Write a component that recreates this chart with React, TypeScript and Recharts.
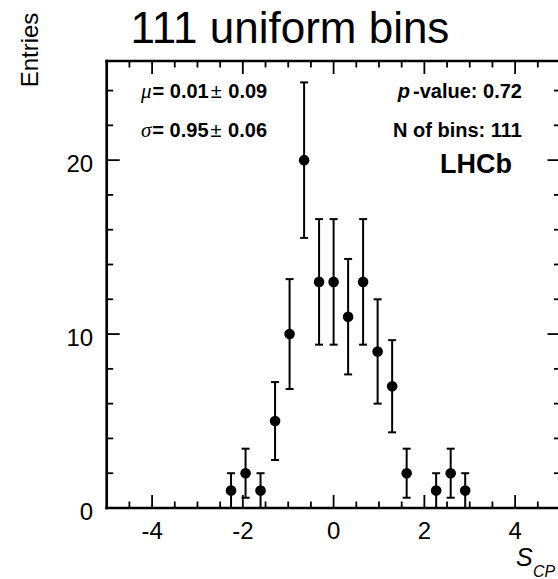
import { ScatterChart, Scatter, XAxis, YAxis, ErrorBar } from "recharts";

// bin centres of the pull histogram and the entries in each bin
const binCenters = [-2.26, -1.94, -1.61, -1.29, -0.97, -0.65, -0.32, 0.0, 0.32, 0.65, 0.97, 1.29, 1.61, 2.26, 2.58, 2.9];
const entries = [1, 2, 1, 5, 10, 20, 13, 13, 11, 13, 9, 7, 2, 1, 2, 1];
const entryErrors = [1, 1.41, 1, 2.24, 3.16, 4.47, 3.61, 3.61, 3.32, 3.61, 3, 2.65, 1.41, 1, 1.41, 1];

const xTicks = [-4.5, -4, -3.5, -3, -2.5, -2, -1.5, -1, -0.5, 0, 0.5, 1, 1.5, 2, 2.5, 3, 3.5, 4, 4.5];
const xTickLabels = [-4, -2, 0, 2, 4];
const yTicks = [0, 2, 4, 6, 8, 10, 12, 14, 16, 18, 20, 22, 24];
const yTickLabels = [0, 10, 20];

const points = binCenters.map((x, i) => ({ x, y: entries[i], err: entryErrors[i] }));

const FONT = "'Liberation Sans', Arial, Helvetica, sans-serif";
const SERIF = "'Liberation Serif', 'Times New Roman', serif";
const MAJOR = 13;
const MINOR = 6.5;

const BottomTick = ({ x, y, payload }: any) => {
  const major = xTickLabels.includes(payload.value);
  return (
    <g>
      <line x1={x} x2={x} y1={y} y2={y - (major ? MAJOR : MINOR)} stroke="#000" strokeWidth={1.8} />
      {major && (
        <text x={x} y={y + 30.5} textAnchor="middle" fontSize={24} fontFamily={FONT} fill="#000">
          {payload.value}
        </text>
      )}
    </g>
  );
};

const TopTick = ({ x, y, payload }: any) => {
  const major = xTickLabels.includes(payload.value);
  return <line x1={x} x2={x} y1={y} y2={y + (major ? MAJOR : MINOR)} stroke="#000" strokeWidth={1.8} />;
};

const LeftTick = ({ x, y, payload }: any) => {
  const major = yTickLabels.includes(payload.value);
  return (
    <g>
      <line x1={x} x2={x + (major ? MAJOR : MINOR)} y1={y} y2={y} stroke="#000" strokeWidth={1.8} />
      {major && (
        <text x={x - 13.5} y={y + 12} textAnchor="end" fontSize={24} fontFamily={FONT} fill="#000">
          {payload.value}
        </text>
      )}
    </g>
  );
};

const RightTick = ({ x, y, payload }: any) => {
  const major = yTickLabels.includes(payload.value);
  return <line x1={x} x2={x - (major ? MAJOR : MINOR)} y1={y} y2={y} stroke="#000" strokeWidth={1.8} />;
};

const frame = { stroke: "#000", strokeWidth: 2.7, strokeLinecap: "square" as const };

export default function App() {
  return (
    <div style={{ position: "absolute", left: 0, top: 0, width: 558, height: 579, overflow: "hidden", background: "#fff" }}>
      <ScatterChart width={600} height={579} margin={{ top: 0, right: 38.5, bottom: 0, left: 0 }}>
        <XAxis
          xAxisId="b"
          type="number"
          dataKey="x"
          domain={[-5, 5]}
          allowDataOverflow
          ticks={xTicks}
          interval={0}
          tickSize={0}
          tickMargin={0}
          tickLine={false}
          tick={(p: any) => <BottomTick {...p} />}
          axisLine={frame}
          height={71}
        />
        <XAxis
          xAxisId="t"
          orientation="top"
          type="number"
          dataKey="x"
          domain={[-5, 5]}
          allowDataOverflow
          ticks={xTicks}
          interval={0}
          tickSize={0}
          tickMargin={0}
          tickLine={false}
          tick={(p: any) => <TopTick {...p} />}
          axisLine={frame}
          height={61}
        />
        <YAxis
          yAxisId="l"
          type="number"
          dataKey="y"
          domain={[0, 25.7]}
          allowDataOverflow
          ticks={yTicks}
          interval={0}
          tickSize={0}
          tickMargin={0}
          tickLine={false}
          tick={(p: any) => <LeftTick {...p} />}
          axisLine={frame}
          width={106.7}
        />
        <YAxis
          yAxisId="r"
          orientation="right"
          type="number"
          dataKey="y"
          domain={[0, 25.7]}
          allowDataOverflow
          ticks={yTicks}
          interval={0}
          tickSize={0}
          tickMargin={0}
          tickLine={false}
          tick={(p: any) => <RightTick {...p} />}
          axisLine={frame}
          width={1}
        />
        <Scatter
          data={points}
          xAxisId="t"
          yAxisId="r"
          isAnimationActive={false}
          shape={() => <g />}
        />
        <Scatter
          data={points}
          xAxisId="b"
          yAxisId="l"
          fill="#000"
          isAnimationActive={false}
          shape={(p: any) => <circle cx={p.cx} cy={p.cy} r={5.3} fill="#000" />}
        >
          <ErrorBar dataKey="err" direction="y" width={4} stroke="#000" strokeWidth={2} />
        </Scatter>
      </ScatterChart>

      <svg
        width={558}
        height={579}
        style={{ position: "absolute", left: 0, top: 0, pointerEvents: "none" }}
        fontFamily={FONT}
      >
        <text x={290} y={43} textAnchor="middle" fontSize={44} fill="#000">
          111 uniform bins
        </text>
        <text x={38} y={50} textAnchor="middle" fontSize={24} fill="#000" transform="rotate(-90, 38, 50)">
          Entries
        </text>
        <text x={516} y={566} fontSize={25} fontStyle="italic" fill="#000">
          S
        </text>
        <text x={533} y={577} fontSize={16} fontStyle="italic" fill="#000">
          CP
        </text>

        <text x={141} y={98} fontSize={20} fontWeight="bold" fill="#000">
          <tspan fontFamily={SERIF} fontStyle="italic" fontWeight="normal" fontSize={21}>μ</tspan>
          <tspan dx={1}>= 0.01</tspan>
          <tspan dx={2} fontWeight="normal">±</tspan>
          <tspan dx={1}> 0.09</tspan>
        </text>
        <text x={141} y={137} fontSize={20} fontWeight="bold" fill="#000">
          <tspan fontFamily={SERIF} fontStyle="italic" fontWeight="normal" fontSize={21}>σ</tspan>
          <tspan dx={1}>= 0.95</tspan>
          <tspan dx={2} fontWeight="normal">±</tspan>
          <tspan dx={1}> 0.06</tspan>
        </text>
        <text x={522} y={98} textAnchor="end" fontSize={20} fontWeight="bold" fill="#000">
          <tspan fontStyle="italic">p</tspan>
          <tspan dx={3}>-value: 0.72</tspan>
        </text>
        <text x={522} y={137} textAnchor="end" fontSize={20} fontWeight="bold" fill="#000">
          N of bins: 111
        </text>
        <text x={512} y={173} textAnchor="end" fontSize={27} fontWeight="bold" fill="#000">
          LHCb
        </text>
      </svg>
    </div>
  );
}
